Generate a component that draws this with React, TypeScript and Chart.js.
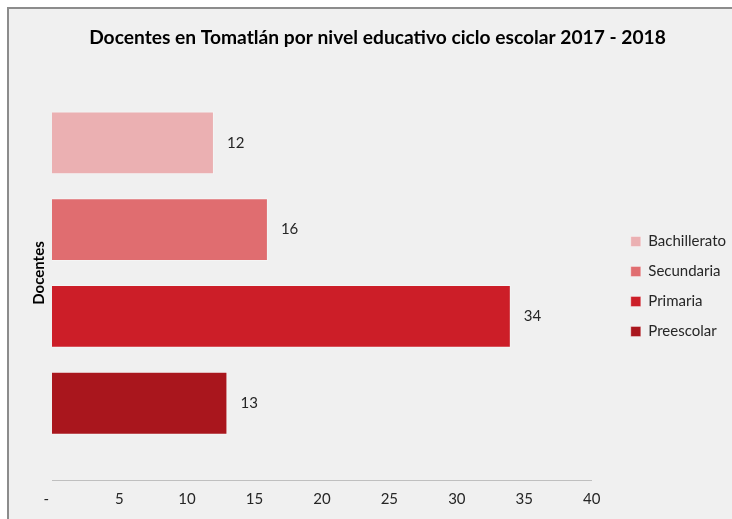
import React, { useEffect, useRef } from "react";
import { Chart, registerables } from "chart.js";

Chart.register(...registerables);

const categories = ["Docentes"];
const seriesNames = ["Bachillerato", "Secundaria", "Primaria", "Preescolar"];
const seriesValues = [12, 16, 34, 13];
const seriesColors = ["#ebb0b2", "#e06d70", "#cc1e28", "#a9161d"];
const xTickValues = [0, 5, 10, 15, 20, 25, 30, 35, 40];
const titleText = "Docentes en Tomatlán por nivel educativo ciclo escolar 2017 - 2018";
const axisTitle = "Docentes";

const FONT = "Lato, 'Open Sans', sans-serif";
const LEGEND_EXTRA = 20;
const LEGEND_SHIFT_X = 24;
const LEGEND_SHIFT_Y = 23;

const valueLabels = {
  id: "valueLabels",
  afterDatasetsDraw(chart: any) {
    const ctx = chart.ctx;
    ctx.save();
    ctx.font = `15px ${FONT}`;
    ctx.fillStyle = "#262626";
    ctx.textBaseline = "middle";
    ctx.textAlign = "left";
    chart.data.datasets.forEach((ds: any, i: number) => {
      const meta = chart.getDatasetMeta(i);
      meta.data.forEach((bar: any, j: number) => {
        ctx.fillText(String(ds.data[j]), bar.x + 13, bar.y);
      });
    });
    ctx.restore();
  },
};

const legendOffset = {
  id: "legendOffset",
  afterInit(chart: any) {
    const lg = chart.legend;
    if (!lg || lg.__patched) return;
    const origFit = lg.fit.bind(lg);
    lg.fit = function () {
      origFit();
      this.width += LEGEND_EXTRA;
    };
    lg.__patched = true;
  },
  afterLayout(chart: any) {
    const lg = chart.legend;
    if (!lg) return;
    lg.left += LEGEND_SHIFT_X;
    lg.right += LEGEND_SHIFT_X;
    lg.top += LEGEND_SHIFT_Y;
    lg.bottom += LEGEND_SHIFT_Y;
  },
};

export default function App() {
  const ref = useRef<HTMLCanvasElement>(null);
  useEffect(() => {
    if (!ref.current) return;
    const chart = new Chart(ref.current, {
      type: "bar",
      data: {
        labels: categories,
        datasets: seriesNames.map((name, i) => ({
          label: name,
          data: [seriesValues[i]],
          backgroundColor: seriesColors[i],
          borderColor: "rgba(255,255,255,0.35)",
          borderWidth: 1,
          categoryPercentage: 0.8386,
          barPercentage: 0.725,
        })),
      },
      options: {
        indexAxis: "y",
        animation: false,
        responsive: false,
        maintainAspectRatio: false,
        layout: { padding: { left: 14, right: 0, top: 0, bottom: 1 } },
        plugins: {
          title: {
            display: true,
            text: titleText,
            color: "#000",
            font: { family: FONT, size: 19.2, weight: "bold" },
            padding: { top: 17, bottom: 17 },
          },
          legend: {
            position: "right",
            labels: {
              boxWidth: 10,
              boxHeight: 10,
              padding: 15,
              color: "#262626",
              font: { family: FONT, size: 15 },
            },
          },
          tooltip: { enabled: false },
        },
        scales: {
          x: {
            min: 0,
            max: 40,
            afterBuildTicks(scale: any) {
              scale.ticks = xTickValues.map((v) => ({ value: v }));
            },
            ticks: {
              color: "#262626",
              font: { family: FONT, size: 15 },
              callback: (v: any) => (Number(v) === 0 ? "-   " : String(v)),
              padding: 10,
            },
            grid: { display: false, drawTicks: false },
            border: { display: true, color: "#bfbfbf", width: 1 },
          },
          y: {
            ticks: { display: false },
            grid: { display: false, drawTicks: false },
            border: { display: false },
            title: {
              display: true,
              text: axisTitle,
              color: "#000",
              font: { family: FONT, size: 15, weight: "bold" },
              padding: { top: 7, bottom: 4 },
            },
          },
        },
      },
      plugins: [legendOffset, valueLabels],
    });
    return () => chart.destroy();
  }, []);
  return (
    <div style={{ position: "absolute", left: 0, top: 0, width: 732, height: 519, background: "#ffffff", overflow: "hidden" }}>
      <div
        style={{
          position: "absolute",
          left: 7,
          top: 7,
          width: 725,
          height: 512,
          background: "#f0f0f0",
          borderLeft: "2px solid #8c8c8c",
          borderTop: "2px solid #8c8c8c",
          boxSizing: "border-box",
        }}
      >
        <canvas ref={ref} width={723} height={510} style={{ display: "block" }} />
      </div>
    </div>
  );
}
